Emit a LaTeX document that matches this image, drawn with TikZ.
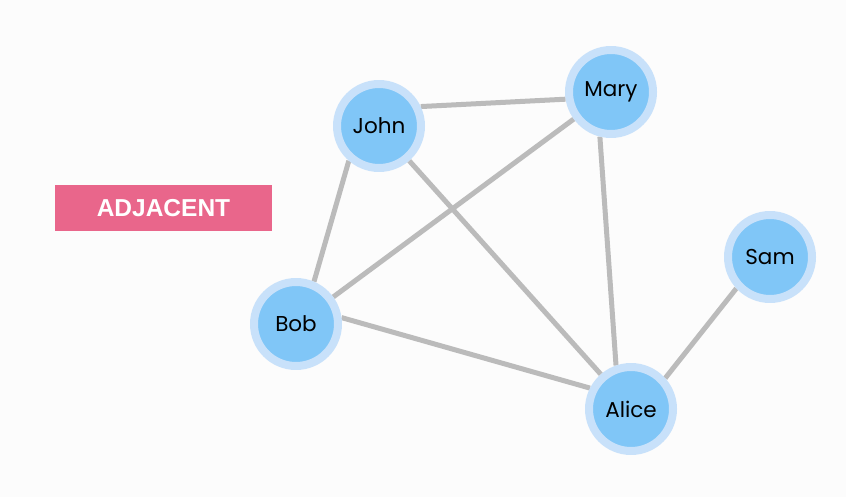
\documentclass[tikz,border=0pt]{standalone}
\usepackage{fontspec}
\setmainfont{Poppins}
\newfontfamily\labelfont{Liberation Sans}
\usetikzlibrary{backgrounds}
\definecolor{ringblue}{HTML}{C8E1FA}
\definecolor{fillblue}{HTML}{80C6F7}
\definecolor{edgegray}{HTML}{BBBBBB}
\definecolor{tagpink}{HTML}{E9668B}
\begin{document}
\begin{tikzpicture}[x=1pt,y=-1pt, line join=round, line cap=round,
	person/.style={circle,fill=fillblue,draw=ringblue,line width=8pt,minimum size=84pt,inner sep=0pt,font=\fontsize{21.5}{22}\selectfont},
	link/.style={draw=edgegray,line width=5pt}]
				\node[person] (J) at (379,126) {John};
				\node[person] (M) at (611,92) {Mary};
				\node[person] (S) at (770,257) {Sam};
				\node[person] (B) at (296,324) {Bob};
				\node[person] (A) at (631,409) {Alice};
				\node[fill=tagpink,minimum width=217pt,minimum height=46pt,inner sep=0pt,text=white,font=\labelfont\bfseries\fontsize{24.5}{25}\selectfont] (T) at (163.5,208) {ADJACENT};
				\begin{scope}[on background layer]
				\fill[white!99!black] (0,0) rectangle (846,497);
				% edges meet the rings a little off centre
				\foreach \u/\a/\v/\b in {J/25/M/189,J/229/B/67,J/311/A/131,M/216/B/36,M/256/A/109,B/8/A/153,S/223/A/42}
				\path[link] (\u.\a) -- (\v.\b);
				\end{scope}
			\end{tikzpicture}
\end{document}
